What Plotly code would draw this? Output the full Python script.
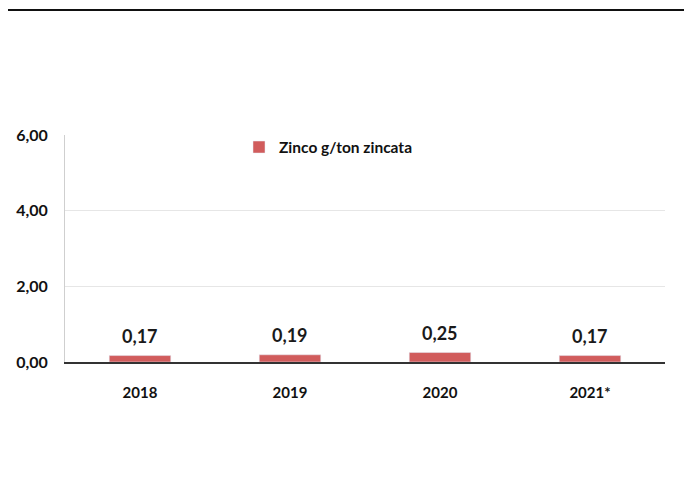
import plotly.graph_objects as go

years = ["2018", "2019", "2020", "2021*"]
zinco = [0.17, 0.19, 0.25, 0.17]
series_name = "Zinco g/ton zincata"
y_ticks = [0, 2, 4, 6]

# page body adds an 8px offset; figure sized to fit the window
W, H = 684, 478
ml, mr, mt, mb = 57, 27, 127, 124
FONT = "Lato"
bar_color = "#d15c5c"
PW, PH = W - ml - mr, H - mt - mb

fig = go.Figure()
fig.add_trace(go.Bar(
    x=years, y=zinco, name=series_name, marker_color=bar_color,
    width=0.41, showlegend=True,
))

for i, v in enumerate(zinco):
    fig.add_annotation(
        x=i, y=v, text=f"<b>{v:.2f}".replace(".", ",") + "</b>",
        showarrow=False, yshift=20, font=dict(family=FONT, size=18, color="#1a1a1a"),
    )

fig.update_layout(
    width=W, height=H,
    margin=dict(l=ml, r=mr, t=mt, b=mb),
    paper_bgcolor="white", plot_bgcolor="white",
    separators=",.",
    font=dict(family=FONT, color="#1a1a1a"),
    legend=dict(
        x=0.29, y=1.02, xanchor="left", yanchor="top",
        bgcolor="rgba(0,0,0,0)", font=dict(family=FONT, size=15.5, color="#111", weight="bold"),
        itemwidth=30,
    ),
    xaxis=dict(
        type="category", categoryorder="array", categoryarray=years,
        range=[-0.5, len(years) - 0.5], automargin=False,
        showgrid=False, showline=True, linecolor="#333", linewidth=1.5,
        tickfont=dict(family=FONT, size=15, color="#111", weight="bold"),
        ticks="", ticklabelstandoff=16,
    ),
    yaxis=dict(
        range=[0, 6], tickvals=y_ticks, tickformat=".2f", automargin=False,
        showgrid=True, gridcolor="#e6e6e6", gridwidth=1,
        showline=True, linecolor="#cfcfcf", linewidth=1,
        zeroline=False,
        tickfont=dict(family=FONT, size=16, color="#111", weight="bold"),
        ticklabelstandoff=13,
    ),
)

# scanned page edges
fig.add_shape(type="line", xref="paper", yref="paper",
              x0=-ml / PW, x1=(W - ml) / PW,
              y0=1 + (mt - 2) / PH, y1=1 + (mt - 2) / PH,
              line=dict(color="#111", width=2))
fig.add_shape(type="line", xref="paper", yref="paper",
              x0=(682 - ml) / PW, x1=(682 - ml) / PW,
              y0=-mb / PH, y1=(H - mb - 205) / PH,
              line=dict(color="#555", width=2))

fig.write_html("out.html")
